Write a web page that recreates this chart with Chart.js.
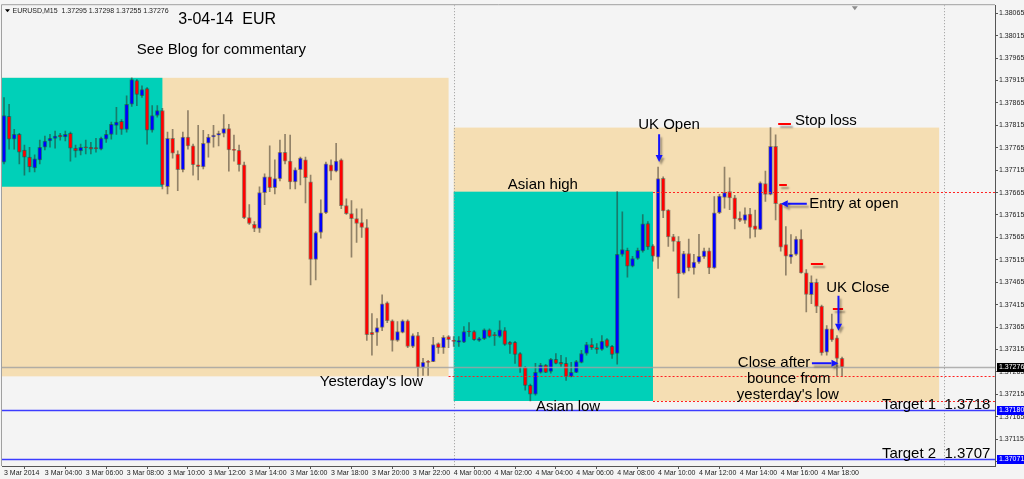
<!DOCTYPE html>
<html>
<head>
<meta charset="utf-8">
<script src="https://cdn.jsdelivr.net/npm/chart.js@4.4.1/dist/chart.umd.min.js"></script>
<style>
html, body { margin: 0; padding: 0; background: #f4f4f4; }
canvas { display: block; }
</style>
</head>
<body>
<canvas id="chart" width="1024" height="479"></canvas>
<script>
// EURUSD M15, 3 Mar 2014 02:00 .. 4 Mar 2014 19:00 (bar 0 = 3 Mar 02:00)
const openP = [1.37733, 1.37835, 1.37784, 1.37795, 1.37760, 1.37744, 1.37720, 1.37738, 1.37766, 1.37780,
  1.37786, 1.37793, 1.37789, 1.37797, 1.37764, 1.37758, 1.37766, 1.37766, 1.37764, 1.37762,
  1.37784, 1.37795, 1.37815, 1.37824, 1.37806, 1.37862, 1.37915, 1.37881, 1.37897, 1.37804,
  1.37837, 1.37848, 1.37678, 1.37786, 1.37751, 1.37716, 1.37789, 1.37769, 1.37727, 1.37722,
  1.37775, 1.37789, 1.37793, 1.37797, 1.37808, 1.37760, 1.37759, 1.37727, 1.37609, 1.37594,
  1.37585, 1.37665, 1.37700, 1.37676, 1.37696, 1.37755, 1.37735, 1.37689, 1.37716, 1.37738,
  1.37689, 1.37516, 1.37576, 1.37620, 1.37727, 1.37713, 1.37738, 1.37636, 1.37618, 1.37607,
  1.37598, 1.37587, 1.37353, 1.37353, 1.37364, 1.37419, 1.37379, 1.37335, 1.37353, 1.37379,
  1.37322, 1.37346, 1.37275, 1.37288, 1.37288, 1.37328, 1.37319, 1.37344, 1.37335, 1.37331,
  1.37331, 1.37355, 1.37355, 1.37335, 1.37339, 1.37359, 1.37348, 1.37344, 1.37357, 1.37331,
  1.37331, 1.37306, 1.37275, 1.37235, 1.37215, 1.37264, 1.37280, 1.37266, 1.37293, 1.37286,
  1.37284, 1.37255, 1.37264, 1.37286, 1.37306, 1.37326, 1.37319, 1.37315, 1.37337, 1.37322,
  1.37306, 1.37527, 1.37536, 1.37501, 1.37518, 1.37535, 1.37596, 1.37546, 1.37521, 1.37697,
  1.37626, 1.37567, 1.37556, 1.37485, 1.37529, 1.37497, 1.37510, 1.37522, 1.37535, 1.37497,
  1.37620, 1.37654, 1.37667, 1.37653, 1.37608, 1.37603, 1.37617, 1.37591, 1.37583, 1.37685,
  1.37661, 1.37768, 1.37640, 1.37549, 1.37521, 1.37527, 1.37561, 1.37486, 1.37437, 1.37465,
  1.37412, 1.37309, 1.37361, 1.37341, 1.37295];
const highP = [1.37877, 1.37862, 1.37806, 1.37797, 1.37771, 1.37766, 1.37749, 1.37782, 1.37791, 1.37795,
  1.37802, 1.37797, 1.37802, 1.37800, 1.37771, 1.37773, 1.37782, 1.37777, 1.37786, 1.37789,
  1.37804, 1.37822, 1.37855, 1.37828, 1.37881, 1.37921, 1.37917, 1.37903, 1.37899, 1.37859,
  1.37859, 1.37853, 1.37800, 1.37806, 1.37758, 1.37800, 1.37848, 1.37773, 1.37815, 1.37804,
  1.37795, 1.37815, 1.37802, 1.37839, 1.37817, 1.37793, 1.37771, 1.37733, 1.37638, 1.37600,
  1.37678, 1.37707, 1.37769, 1.37738, 1.37782, 1.37795, 1.37793, 1.37720, 1.37744, 1.37744,
  1.37704, 1.37578, 1.37649, 1.37733, 1.37738, 1.37775, 1.37740, 1.37651, 1.37647, 1.37629,
  1.37629, 1.37605, 1.37395, 1.37384, 1.37437, 1.37421, 1.37381, 1.37377, 1.37381, 1.37381,
  1.37350, 1.37353, 1.37295, 1.37291, 1.37342, 1.37330, 1.37346, 1.37346, 1.37344, 1.37344,
  1.37366, 1.37375, 1.37357, 1.37342, 1.37361, 1.37361, 1.37353, 1.37379, 1.37364, 1.37333,
  1.37333, 1.37308, 1.37277, 1.37238, 1.37284, 1.37284, 1.37282, 1.37295, 1.37306, 1.37302,
  1.37297, 1.37286, 1.37291, 1.37313, 1.37331, 1.37339, 1.37328, 1.37346, 1.37339, 1.37324,
  1.37667, 1.37622, 1.37541, 1.37523, 1.37541, 1.37616, 1.37600, 1.37549, 1.37722, 1.37700,
  1.37627, 1.37572, 1.37567, 1.37534, 1.37561, 1.37527, 1.37572, 1.37541, 1.37541, 1.37656,
  1.37661, 1.37722, 1.37698, 1.37659, 1.37622, 1.37631, 1.37630, 1.37626, 1.37689, 1.37713,
  1.37810, 1.37794, 1.37641, 1.37589, 1.37571, 1.37567, 1.37582, 1.37493, 1.37479, 1.37472,
  1.37414, 1.37368, 1.37394, 1.37346, 1.37298];
const lowP = [1.37729, 1.37762, 1.37762, 1.37729, 1.37704, 1.37711, 1.37711, 1.37729, 1.37760, 1.37766,
  1.37764, 1.37782, 1.37780, 1.37735, 1.37744, 1.37749, 1.37751, 1.37751, 1.37755, 1.37760,
  1.37777, 1.37784, 1.37795, 1.37795, 1.37800, 1.37857, 1.37859, 1.37877, 1.37773, 1.37800,
  1.37833, 1.37673, 1.37662, 1.37742, 1.37669, 1.37711, 1.37762, 1.37704, 1.37693, 1.37718,
  1.37744, 1.37766, 1.37769, 1.37789, 1.37713, 1.37735, 1.37713, 1.37607, 1.37594, 1.37578,
  1.37576, 1.37638, 1.37667, 1.37662, 1.37691, 1.37729, 1.37673, 1.37673, 1.37682, 1.37642,
  1.37459, 1.37470, 1.37563, 1.37618, 1.37693, 1.37711, 1.37629, 1.37616, 1.37521, 1.37554,
  1.37565, 1.37335, 1.37302, 1.37324, 1.37357, 1.37375, 1.37311, 1.37333, 1.37352, 1.37319,
  1.37319, 1.37255, 1.37257, 1.37257, 1.37288, 1.37306, 1.37306, 1.37319, 1.37322, 1.37322,
  1.37330, 1.37344, 1.37335, 1.37333, 1.37337, 1.37342, 1.37324, 1.37342, 1.37324, 1.37306,
  1.37284, 1.37264, 1.37224, 1.37200, 1.37213, 1.37262, 1.37263, 1.37262, 1.37283, 1.37277,
  1.37246, 1.37254, 1.37263, 1.37285, 1.37302, 1.37315, 1.37306, 1.37313, 1.37319, 1.37295,
  1.37282, 1.37523, 1.37476, 1.37499, 1.37516, 1.37532, 1.37538, 1.37512, 1.37496, 1.37609,
  1.37545, 1.37534, 1.37430, 1.37483, 1.37490, 1.37483, 1.37507, 1.37518, 1.37484, 1.37496,
  1.37618, 1.37630, 1.37627, 1.37584, 1.37600, 1.37596, 1.37563, 1.37566, 1.37582, 1.37645,
  1.37660, 1.37604, 1.37534, 1.37481, 1.37507, 1.37525, 1.37485, 1.37399, 1.37417, 1.37397,
  1.37302, 1.37302, 1.37333, 1.37256, 1.37255];
const closeP = [1.37837, 1.37784, 1.37795, 1.37755, 1.37744, 1.37722, 1.37740, 1.37766, 1.37780, 1.37786,
  1.37791, 1.37789, 1.37795, 1.37764, 1.37758, 1.37766, 1.37765, 1.37762, 1.37763, 1.37786,
  1.37795, 1.37817, 1.37822, 1.37806, 1.37862, 1.37917, 1.37884, 1.37895, 1.37804, 1.37837,
  1.37848, 1.37682, 1.37786, 1.37753, 1.37716, 1.37789, 1.37769, 1.37727, 1.37723, 1.37775,
  1.37789, 1.37793, 1.37797, 1.37808, 1.37760, 1.37759, 1.37727, 1.37609, 1.37596, 1.37585,
  1.37665, 1.37700, 1.37676, 1.37696, 1.37755, 1.37735, 1.37689, 1.37716, 1.37742, 1.37698,
  1.37516, 1.37576, 1.37620, 1.37729, 1.37713, 1.37735, 1.37636, 1.37618, 1.37607, 1.37596,
  1.37587, 1.37348, 1.37348, 1.37364, 1.37417, 1.37379, 1.37335, 1.37355, 1.37379, 1.37322,
  1.37346, 1.37275, 1.37286, 1.37286, 1.37326, 1.37319, 1.37342, 1.37337, 1.37333, 1.37335,
  1.37355, 1.37354, 1.37337, 1.37339, 1.37359, 1.37344, 1.37346, 1.37359, 1.37326, 1.37326,
  1.37304, 1.37275, 1.37235, 1.37215, 1.37264, 1.37280, 1.37264, 1.37293, 1.37284, 1.37282,
  1.37255, 1.37264, 1.37288, 1.37306, 1.37326, 1.37319, 1.37315, 1.37333, 1.37322, 1.37304,
  1.37527, 1.37538, 1.37501, 1.37518, 1.37536, 1.37595, 1.37544, 1.37523, 1.37696, 1.37624,
  1.37566, 1.37556, 1.37484, 1.37529, 1.37497, 1.37510, 1.37523, 1.37535, 1.37497, 1.37620,
  1.37657, 1.37665, 1.37653, 1.37606, 1.37603, 1.37616, 1.37587, 1.37583, 1.37687, 1.37661,
  1.37768, 1.37640, 1.37543, 1.37523, 1.37527, 1.37561, 1.37486, 1.37438, 1.37465, 1.37411,
  1.37307, 1.37361, 1.37336, 1.37295, 1.37276];

// axis labels
const xTickBars = [0, 8, 16, 24, 32, 40, 48, 56, 64, 72, 80, 88, 96, 104, 112, 120, 128, 136, 144, 152, 160];
const xTickText = ['3 Mar 2014', '3 Mar 04:00', '3 Mar 06:00', '3 Mar 08:00', '3 Mar 10:00', '3 Mar 12:00',
  '3 Mar 14:00', '3 Mar 16:00', '3 Mar 18:00', '3 Mar 20:00', '3 Mar 22:00', '4 Mar 00:00', '4 Mar 02:00',
  '4 Mar 04:00', '4 Mar 06:00', '4 Mar 08:00', '4 Mar 10:00', '4 Mar 12:00', '4 Mar 14:00', '4 Mar 16:00', '4 Mar 18:00'];
const yTicks = [1.37065, 1.37115, 1.37165, 1.37215, 1.37265, 1.37315, 1.37365, 1.37415, 1.37465, 1.37515,
  1.37565, 1.37615, 1.37665, 1.37715, 1.37765, 1.37815, 1.37865, 1.37915, 1.37965, 1.38015, 1.38065];

// session boxes [from bar, to bar, high, low]
const dayRanges = [[-8, 87, 1.37921, 1.37255], [88, 183, 1.37810, 1.37200]];
const asianRanges = [[-8, 31, 1.37921, 1.37678], [88, 127, 1.37667, 1.37200]];
const daySeparators = [88, 184];

// levels
const bidPrice = 1.37276;
const yesterdayLow = 1.37255;
const asianHigh = 1.37667;
const asianLow = 1.37200;
const target1 = 1.37180;
const target2 = 1.37071;

// trade marks [bar from, bar to, price]
const tradeMarks = [[151.5, 154.0, 1.37819], [151.7, 153.2, 1.37682], [157.9, 160.3, 1.37505], [162.2, 164.2, 1.37406]];
// arrows [bar1, price1, bar2 (tip), price2 (tip)]
const arrows = [[128.2, 1.37795, 128.2, 1.37733], [157.1, 1.37640, 152.0, 1.37640],
  [163.3, 1.37435, 163.3, 1.37357], [158.1, 1.37284, 163.3, 1.37284]];

// text notes
const noteText = ['3-04-14  EUR', 'See Blog for commentary', 'Asian high', 'UK Open', 'Stop loss', 'Entry at open',
  'UK Close', 'Close after', 'bounce from', "yesterday's low", "Yesterday's low", 'Asian low', 'Target 1  1.3718', 'Target 2  1.3707'];
const noteBar = [34.1, 26.0, 98.6, 124.1, 154.8, 157.6, 160.9, 143.6, 145.4, 143.4, 61.8, 104.1, 171.8, 171.8];
const notePrice = [1.38052, 1.37983, 1.37682, 1.37815, 1.37826, 1.37640, 1.37452, 1.37286, 1.37249, 1.37213,
  1.37242, 1.37187, 1.37191, 1.37083];

const smallFont = '"Liberation Sans Narrow", "Liberation Sans", Arial, sans-serif';
const noteFont = '"Liberation Sans", Arial, sans-serif';

const bars = openP.map((_, i) => i);
const wickData = bars.map(i => ({ x: i, y: [lowP[i], highP[i]] }));
const bodyData = bars.map(i => ({ x: i, y: [openP[i], closeP[i]] }));
const bodyColor = bars.map(i => closeP[i] > openP[i] ? '#0000ff' : '#ff0000');

function fillRange(c, x, y, r, color) {
    const x1 = x.getPixelForValue(r[0]), x2 = x.getPixelForValue(r[1]);
    const y1 = y.getPixelForValue(r[2]), y2 = y.getPixelForValue(r[3]);
    c.fillStyle = color;
    c.fillRect(x1, y1, x2 - x1, y2 - y1);
}

function hLine(c, y, price, x1, x2) {
    const yy = Math.round(y.getPixelForValue(price)) + 0.5;
    c.beginPath();
    c.moveTo(x1, yy);
    c.lineTo(x2, yy);
    c.stroke();
}

function drawArrow(c, x1, y1, x2, y2) {
    const ang = Math.atan2(y2 - y1, x2 - x1), hl = 7, hw = 3.5;
    const bx = x2 - hl * Math.cos(ang), by = y2 - hl * Math.sin(ang);
    c.beginPath();
    c.moveTo(x1, y1);
    c.lineTo(bx, by);
    c.stroke();
    c.beginPath();
    c.moveTo(x2, y2);
    c.lineTo(bx + hw * Math.sin(ang), by - hw * Math.cos(ang));
    c.lineTo(bx - hw * Math.sin(ang), by + hw * Math.cos(ang));
    c.closePath();
    c.fill();
}

const annotate = {
    id: 'annotate',
    beforeDraw(chart) {
        const c = chart.ctx;
        c.save();
        c.fillStyle = '#f4f4f4';
        c.fillRect(0, 0, chart.width, chart.height);
        c.restore();
    },
    beforeDatasetsDraw(chart) {
        const { ctx: c, chartArea: a, scales: { x, y } } = chart;
        c.save();
        c.beginPath();
        c.rect(a.left, a.top, a.right - a.left, a.bottom - a.top);
        c.clip();
        dayRanges.forEach(r => fillRange(c, x, y, r, '#f5deb3'));
        asianRanges.forEach(r => fillRange(c, x, y, r, '#00d0b8'));
        c.strokeStyle = '#999999';
        c.lineWidth = 1;
        c.setLineDash([1, 2]);
        daySeparators.forEach(b => {
            const xx = Math.round(x.getPixelForValue(b)) + 0.5;
            c.beginPath();
            c.moveTo(xx, a.top);
            c.lineTo(xx, a.bottom);
            c.stroke();
        });
        c.restore();
    },
    afterDatasetsDraw(chart) {
        const { ctx: c, chartArea: a, scales: { x, y } } = chart;
        c.save();
        c.beginPath();
        c.rect(a.left, a.top, a.right - a.left, a.bottom - a.top);
        c.clip();

        // bid line
        c.strokeStyle = 'rgba(160,160,160,0.8)';
        c.lineWidth = 1.5;
        hLine(c, y, bidPrice, a.left, a.right);

        // red dotted levels
        c.strokeStyle = '#ff2020';
        c.lineWidth = 1;
        c.setLineDash([2, 2]);
        hLine(c, y, yesterdayLow, x.getPixelForValue(87), a.right);
        hLine(c, y, asianHigh, x.getPixelForValue(127), a.right);
        hLine(c, y, asianLow, x.getPixelForValue(127), a.right);
        c.setLineDash([]);

        // targets
        c.strokeStyle = '#3c3cff';
        c.lineWidth = 1.5;
        hLine(c, y, target1, a.left, a.right);
        hLine(c, y, target2, a.left, a.right);

        // trade marks and arrows with shadow
        c.shadowColor = 'rgba(0,0,0,0.35)';
        c.shadowOffsetX = 2;
        c.shadowOffsetY = 3;
        c.shadowBlur = 2;
        c.strokeStyle = '#ff0000';
        c.lineWidth = 2;
        tradeMarks.forEach(m => {
            const yy = Math.round(y.getPixelForValue(m[2]));
            c.beginPath();
            c.moveTo(x.getPixelForValue(m[0]), yy);
            c.lineTo(x.getPixelForValue(m[1]), yy);
            c.stroke();
        });
        c.strokeStyle = '#1414ff';
        c.fillStyle = '#1414ff';
        arrows.forEach(r => drawArrow(c, x.getPixelForValue(r[0]), y.getPixelForValue(r[1]),
            x.getPixelForValue(r[2]), y.getPixelForValue(r[3])));
        c.restore();

        // notes
        c.save();
        c.fillStyle = '#000000';
        c.textAlign = 'left';
        c.textBaseline = 'middle';
        noteText.forEach((t, i) => {
            c.font = (i === 0 ? '16px ' : '15px ') + noteFont;
            c.fillText(t, x.getPixelForValue(noteBar[i]), y.getPixelForValue(notePrice[i]));
        });

        // header
        c.fillStyle = '#000000';
        c.beginPath();
        c.moveTo(a.left + 3, a.top + 4);
        c.lineTo(a.left + 8, a.top + 4);
        c.lineTo(a.left + 5.5, a.top + 7);
        c.closePath();
        c.fill();
        c.font = '7px ' + smallFont;
        c.fillStyle = '#222222';
        c.fillText('EURUSD,M15  ' + openP[164].toFixed(5) + ' ' + highP[164].toFixed(5) + ' ' +
            lowP[164].toFixed(5) + ' ' + closeP[164].toFixed(5), a.left + 10.5, a.top + 5.5);

        // chart shift marker
        const sx = x.getPixelForValue(166.5);
        c.fillStyle = '#8c8c8c';
        c.beginPath();
        c.moveTo(sx - 3, a.top + 1);
        c.lineTo(sx + 3, a.top + 1);
        c.lineTo(sx, a.top + 5);
        c.closePath();
        c.fill();
        c.restore();
    },
    afterDraw(chart) {
        const { ctx: c, chartArea: a, scales: { y } } = chart;
        c.save();
        // frame
        c.strokeStyle = '#a0a0a0';
        c.lineWidth = 1;
        c.beginPath();
        c.moveTo(a.left - 0.5, a.bottom);
        c.lineTo(a.left - 0.5, a.top - 0.5);
        c.lineTo(a.right, a.top - 0.5);
        c.stroke();
        // price tags on the axis
        c.font = '7px ' + smallFont;
        c.textAlign = 'left';
        c.textBaseline = 'middle';
        [[bidPrice, '#000000'], [target1, '#0000ff'], [target2, '#0000ff']].forEach(p => {
            const yy = Math.round(y.getPixelForValue(p[0]));
            c.fillStyle = p[1];
            c.fillRect(a.right + 2, yy - 4, 27, 9);
            c.fillStyle = '#ffffff';
            c.fillText(p[0].toFixed(5), a.right + 4, yy + 0.5);
        });
        c.restore();
    }
};

const ctx = document.getElementById('chart');

new Chart(ctx, {
    type: 'bar',
    data: {
        datasets: [{
            data: wickData,
            backgroundColor: 'rgba(45,38,30,0.5)',
            barThickness: 1,
            grouped: false,
            order: 2
        }, {
            data: bodyData,
            backgroundColor: bodyColor,
            borderColor: 'rgba(40,30,30,0.4)',
            borderWidth: 1,
            borderSkipped: false,
            barThickness: 4,
            minBarLength: 1,
            grouped: false,
            order: 1
        }]
    },
    options: {
        responsive: false,
        animation: false,
        devicePixelRatio: 1,
        layout: { padding: { left: 2, top: 2, right: 0, bottom: 0 } },
        plugins: {
            legend: { display: false },
            tooltip: { enabled: false }
        },
        scales: {
            x: {
                type: 'linear',
                min: -0.39,
                max: 193.93,
                offset: false,
                afterFit: (s) => { s.height = 13; },
                afterBuildTicks: (s) => { s.ticks = xTickBars.map(v => ({ value: v })); },
                ticks: {
                    callback: (v) => xTickText[xTickBars.indexOf(v)] || '',
                    align: 'start',
                    maxRotation: 0,
                    autoSkip: false,
                    padding: 0,
                    color: '#222222',
                    font: { family: smallFont, size: 7 }
                },
                grid: { drawOnChartArea: false, tickLength: 3, color: '#555555' },
                border: { color: '#555555' }
            },
            y: {
                position: 'right',
                min: 1.37055,
                max: 1.38083,
                afterFit: (s) => { s.width = 29; },
                afterBuildTicks: (s) => { s.ticks = yTicks.map(v => ({ value: v })); },
                ticks: {
                    callback: (v) => v.toFixed(5),
                    padding: 1,
                    color: '#222222',
                    font: { family: smallFont, size: 7 }
                },
                grid: { drawOnChartArea: false, tickLength: 3, color: '#555555' },
                border: { color: '#555555' }
            }
        }
    },
    plugins: [annotate]
});
</script>
</body>
</html>
